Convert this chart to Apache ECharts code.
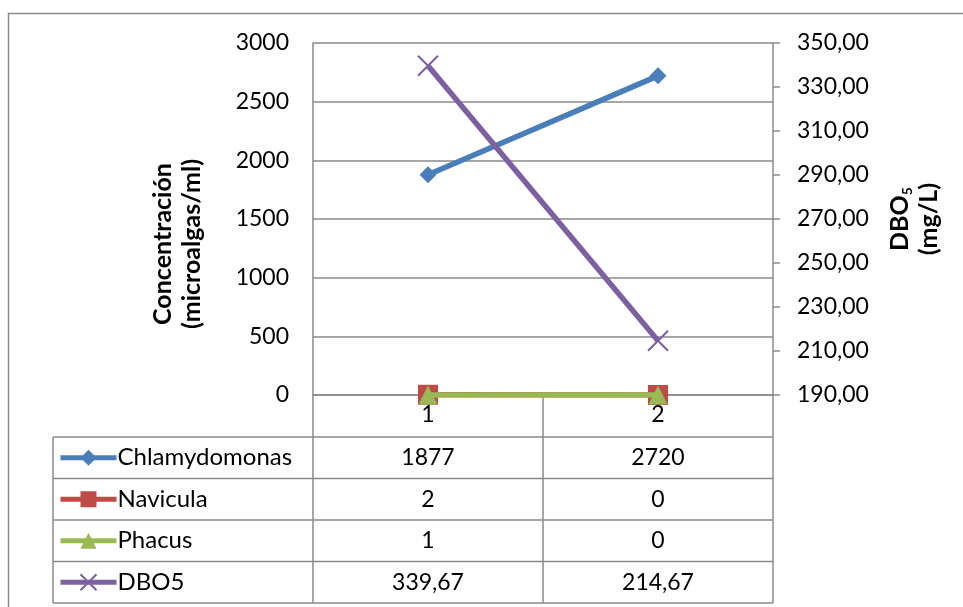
<!DOCTYPE html>
<html>
<head>
<meta charset="utf-8">
<script src="https://cdn.jsdelivr.net/npm/echarts@6/dist/echarts.min.js"></script>
<style>
  html, body { margin: 0; padding: 0; background: #fff; }
  #chart { width: 963px; height: 607px; }
</style>
</head>
<body>
<div id="chart"></div>
<script>
// Sampling points
const categories = ['1', '2'];
// Microalgae concentration (microalgas/ml)
const chlamydomonas = [1877, 2720];
const navicula = [2, 0];
const phacus = [1, 0];
// BOD5 (mg/L)
const dbo5 = [339.67, 214.67];

const seriesNames = ['Chlamydomonas', 'Navicula', 'Phacus', 'DBO5'];
const seriesData = [chlamydomonas, navicula, phacus, dbo5];

const FONT = 'Lato, "Open Sans", sans-serif';
const FS = 23;
const GRAY = '#8a8a8a';
const comma2 = v => v.toFixed(2).replace('.', ',');
const cellText = (i, v) => (i === 3 ? comma2(v) : String(v));

// plot rectangle
const gLeft = 313, gRight = 773, gTop = 43, gBottom = 395;
const rowH = 41.5;
const tableTop = 437;
const tableLeft = 53;

const chart = echarts.init(document.getElementById('chart'), null, { renderer: 'canvas' });

const graphics = [];
// outer chart frame
graphics.push({
  type: 'rect', silent: true, z: 0,
  shape: { x: 8.5, y: 13.5, width: 1000, height: 700 },
  style: { fill: 'none', stroke: GRAY, lineWidth: 1.5 }
});
// table horizontal rules
for (let r = 0; r <= seriesNames.length; r++) {
  const y = tableTop + r * rowH;
  graphics.push({
    type: 'line', silent: true,
    shape: { x1: tableLeft, y1: y, x2: gRight, y2: y },
    style: { stroke: GRAY, lineWidth: 1.5 }
  });
}
// table left border
graphics.push({
  type: 'line', silent: true,
  shape: { x1: tableLeft, y1: tableTop, x2: tableLeft, y2: tableTop + seriesNames.length * rowH },
  style: { stroke: GRAY, lineWidth: 1.5 }
});
// table cell values
const bandW = (gRight - gLeft) / categories.length;
seriesData.forEach((arr, i) => {
  arr.forEach((v, j) => {
    graphics.push({
      type: 'text', silent: true,
      x: gLeft + bandW * (j + 0.5),
      y: tableTop + rowH * (i + 0.5),
      style: {
        text: cellText(i, v), fill: '#000', font: FS + 'px ' + FONT,
        align: 'center', verticalAlign: 'middle'
      }
    });
  });
});
// axis titles
graphics.push({
  type: 'text', silent: true,
  x: 177, y: 244, rotation: Math.PI / 2,
  style: {
    text: 'Concentración\n(microalgas/ml)', fill: '#000',
    font: 'bold 25px ' + FONT, align: 'center', verticalAlign: 'middle',
    lineHeight: 29
  }
});
graphics.push({
  type: 'text', silent: true,
  x: 914, y: 219, rotation: Math.PI / 2,
  style: {
    text: '{a|DBO}{s|5}\n{a|(mg/L)}', align: 'center', verticalAlign: 'middle',
    rich: {
      a: { font: 'bold 25px ' + FONT, fill: '#000', lineHeight: 29 },
      s: { font: 'bold 14px ' + FONT, fill: '#000', verticalAlign: 'bottom', lineHeight: 23 }
    }
  }
});

const colors = ['#4a7ebb', '#be4b48', '#98b954', '#7d60a0'];
const symbols = ['diamond', 'rect', 'triangle', 'path://M0,0L10,10M10,0L0,10'];
const symbolSizes = [17, 20, 19, 20];

const series = seriesNames.map((name, i) => ({
  name,
  type: 'line',
  yAxisIndex: i === 3 ? 1 : 0,
  data: seriesData[i],
  symbol: symbols[i],
  symbolSize: symbolSizes[i],
  showSymbol: true,
  lineStyle: { color: colors[i], width: 5.5 },
  itemStyle: i === 3
    ? { color: 'rgba(0,0,0,0)', borderColor: colors[i], borderWidth: 2 }
    : { color: colors[i], borderWidth: 0 },
  z: 2 + i,
  emphasis: { disabled: true }
}));

// one legend entry per table row
const legends = seriesNames.map((name, i) => ({
  orient: 'horizontal',
  left: 58,
  top: tableTop + rowH * (i + 0.5) - 15,
  padding: 0,
  itemWidth: 56, itemHeight: 20,
  selectedMode: false,
  data: [name],
  lineStyle: { width: 5 },
  textStyle: { fontSize: 24, fontFamily: FONT, color: '#000', lineHeight: 30, padding: [0, 0, 0, -4] }
}));

chart.setOption({
  animation: false,
  color: colors,
  grid: { left: gLeft, right: 963 - gRight, top: gTop, bottom: 607 - gBottom, containLabel: false },
  legend: legends,
  xAxis: {
    type: 'category',
    data: categories,
    boundaryGap: true,
    axisLine: { lineStyle: { color: GRAY, width: 1.5 } },
    axisTick: { show: true, length: tableTop + seriesNames.length * rowH - gBottom, lineStyle: { color: GRAY, width: 1.5 } },
    axisLabel: { fontSize: FS, fontFamily: FONT, color: '#000', margin: 8 },
    splitLine: { show: false }
  },
  yAxis: [
    {
      type: 'value', min: 0, max: 3000, interval: 500,
      axisLine: { show: true, lineStyle: { color: GRAY, width: 1.5 } },
      axisTick: { show: false },
      axisLabel: { fontSize: FS, fontFamily: FONT, color: '#000', margin: 24, formatter: v => String(v) },
      splitLine: { show: true, lineStyle: { color: GRAY, width: 1.5 } }
    },
    {
      type: 'value', min: 190, max: 350, interval: 20, position: 'right',
      axisLine: { show: true, lineStyle: { color: GRAY, width: 1.5 } },
      axisTick: { show: true, length: 7, lineStyle: { color: GRAY, width: 1.5 } },
      axisLabel: { fontSize: FS, fontFamily: FONT, color: '#000', margin: 24, formatter: v => comma2(v) },
      splitLine: { show: false }
    }
  ],
  series,
  graphic: graphics
});
</script>
</body>
</html>
